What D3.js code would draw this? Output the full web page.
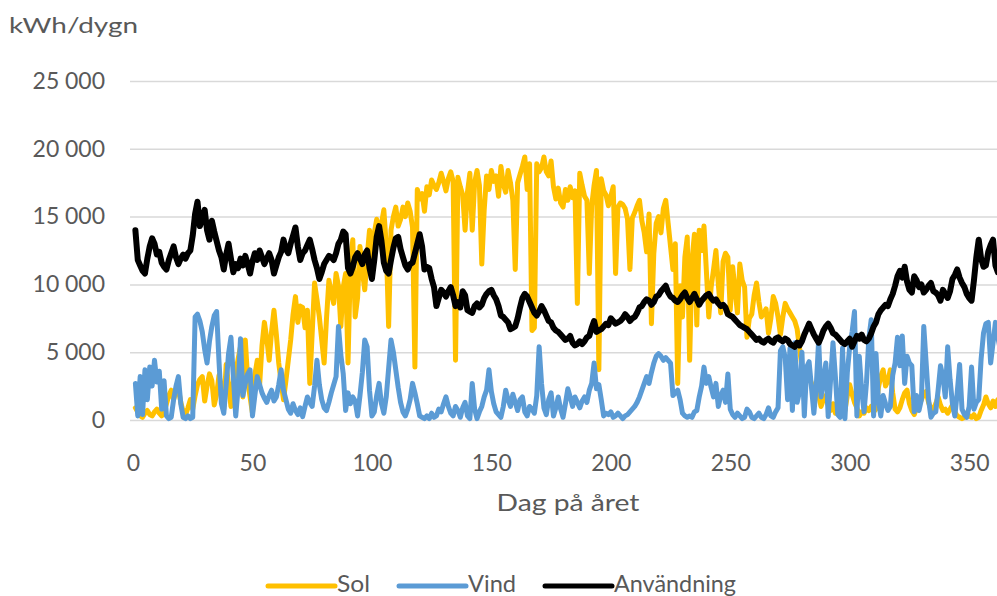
<!DOCTYPE html>
<html>
<head>
<meta charset="utf-8">
<script src="https://cdn.jsdelivr.net/npm/d3@7"></script>
<style>
  html, body { margin: 0; padding: 0; background: #ffffff; }
  svg { display: block; }
  text { font-family: Lato, "Open Sans", "Noto Sans", sans-serif; fill: #595959; }
</style>
</head>
<body>
<svg id="chart" width="997" height="596"></svg>
<script>
// Daily energy, kWh per day, day 1..365
const sol = [
  900, 600, 300, 200, 500, 700, 400, 300, 600, 800,
  500, 300, 600, 1200, 1800, 2200, 1500, 2100, 2300, 1300,
  600, 400, 900, 1500, 800, 1800, 2600, 3000, 3200, 1400,
  2500, 3400, 2900, 1100, 1900, 3300, 2400, 800, 4100, 2600,
  1000, 2800, 3500, 4500, 5400, 1700, 5900, 3000, 1700, 500,
  3300, 4400, 2600, 5500, 7200, 6000, 4400, 6500, 8100, 6300,
  4200, 2800, 1500, 2900, 4400, 5900, 7800, 9100, 7200, 8400,
  8300, 6800, 8100, 2700, 6400, 10100, 8900, 7600, 5900, 4200,
  7500, 10300, 9400, 8600, 10800, 9900, 6900, 9800, 10800, 4200,
  11500, 13300, 7600, 9000, 12800, 11000, 9600, 12000, 14000, 11600,
  13800, 14800, 13600, 14500, 15500, 12900, 6900, 14000, 15000, 15700,
  14300, 14800, 15700, 15000, 16000, 15400, 14200, 3900, 17000, 16300,
  16700, 15400, 17200, 16600, 17700, 17300, 17000, 17500, 18200, 17600,
  16900, 17800, 18300, 17600, 4400, 17900, 17200, 16600, 14000, 16800,
  18200, 14000, 17500, 18400, 17300, 11500, 15500, 18000, 17000, 18400,
  17600, 18000, 16500, 18700, 17400, 16800, 18400, 17500, 16200, 11100,
  17500, 18100, 18700, 19400, 17000, 18900, 6600, 6800, 18900, 18300,
  18600, 19400, 18300, 18000, 19100, 17200, 16300, 17100, 16000, 15700,
  17000, 16200, 17200, 16400, 16900, 8600, 18200, 17300, 16500, 16200,
  10800, 15800, 17300, 18400, 3700, 17800, 16900, 16600, 15800, 16500,
  17200, 10800, 15700, 16000, 15900, 15600, 14800, 11100, 14900, 15300,
  15800, 16200, 14700, 13800, 12400, 15200, 7100, 12300, 14500, 15000,
  13800, 15600, 16200, 14500, 12800, 11100, 13000, 2700, 9900, 7600,
  12000, 13500, 4400, 11800, 13700, 7000, 14000, 12500, 14300, 11000,
  7600, 9800, 11100, 12500, 10000, 7900, 11700, 12300, 12000, 8100,
  11300, 9600, 7900, 11500, 10300, 9800, 6100, 7500, 7800, 9200,
  10100, 8700, 7600, 7900, 8200, 6400, 7500, 9100, 8600, 7600,
  6300, 7600, 8600, 8200, 7900, 7600, 7300, 6700, 5300, 3900,
  2800, 3600, 3200, 2700, 2000, 2500, 1800, 1000, 1500, 1800,
  1100, 700, 1200, 500, 800, 1400, 1000, 700, 1800, 2600,
  1900, 1300, 900, 300, 600, 500, 900, 700, 1000, 600,
  800, 2400, 3200, 3700, 2500, 2900, 3700, 2000, 800, 600,
  900, 1500, 2000, 2200, 1200, 700, 400, 900, 1100, 1500,
  1900, 2100, 1300, 800, 800, 1200, 1700, 1100, 700, 800,
  500, 800, 1100, 600, 300, 200, 100, 200, 500, 300,
  200, 400, 100, 200, 700, 1100, 1700, 1200, 900, 1400,
  1000, 1500, 1200, 1000, 900
];

const vind = [
  2700, 300, 3200, 400, 3700, 1500, 3900, 2500, 4400, 2800,
  3600, 800, 2900, 300, 100, 200, 1500, 2500, 3200, 1200,
  200, 100, 300, 100, 200, 7600, 7800, 7300, 6500, 5200,
  4200, 5800, 6900, 7700, 8000, 4300, 1200, 500, 2600, 4900,
  6100, 3200, 300, 2400, 6000, 1800, 2700, 3400, 3700, 300,
  1800, 3200, 2600, 2000, 1600, 1300, 1800, 2200, 1400, 1700,
  2600, 3700, 2200, 1500, 800, 500, 1200, 700, 400, 900,
  250, 1000, 1700, 1300, 1000, 2500, 4400, 2600, 1500, 900,
  700, 1300, 2000, 2600, 3200, 6900, 4800, 3400, 700, 2000,
  1200, 1700, 1400, 300, 1800, 3500, 5900, 5400, 2200, 300,
  600, 1800, 2700, 1200, 500, 1700, 3800, 5900, 5000, 3700,
  2400, 1300, 600, 300, 800, 1500, 2700, 2000, 1200, 300,
  200, 100, 300, 100, 500, 200, 300, 800, 600, 1200,
  1700, 1000, 500, 300, 1000, 700, 200, 900, 1300, 300,
  100, 2700, 800, 100, 600, 1000, 1700, 2200, 3700, 2100,
  1200, 600, 400, 200, 1000, 2200, 1500, 1000, 1900, 1300,
  700, 1500, 1700, 600, 300, 1000, 800, 500, 1800, 5400,
  2700, 900, 400, 1500, 2000, 300, 900, 1700, 800, 200,
  1200, 2300, 1700, 1000, 1700, 1300, 900, 1400, 1700, 1300,
  2200, 2700, 4200, 2300, 2600, 1500, 300, 500, 400, 600,
  200, 300, 500, 300, 100, 300, 400, 600, 800, 1000,
  1300, 1700, 2200, 2700, 3200, 2700, 3500, 4200, 4700, 4900,
  4700, 4400, 4600, 4400, 4200, 1800, 2000, 2200, 1500, 500,
  300, 200, 300, 200, 600, 700, 1700, 2500, 3900, 2700,
  3200, 2400, 1700, 2700, 1000, 1800, 2200, 1300, 3400, 800,
  400, 200, 500, 300, 100, 200, 800, 600, 200, 100,
  300, 500, 200, 100, 400, 900, 300, 200, 600, 900,
  5100, 5400, 4600, 1500, 5300, 700, 5700, 1300, 2100, 5000,
  300, 3900, 4300, 2400, 500, 2500, 5900, 1700, 3000, 4200,
  250, 3000, 5700, 3200, 400, 200, 5300, 100, 3500, 5400,
  6500, 8000, 300, 4700, 2200, 600, 2700, 6000, 7400, 300,
  4900, 1500, 300, 1800, 1200, 700, 1000, 3300, 4200, 6100,
  4000, 6200, 2700, 4700, 4200, 4000, 600, 1800, 700, 1500,
  6900, 4200, 1500, 200, 500, 600, 2200, 4000, 3200, 1700,
  5400, 3000, 1200, 300, 2000, 4100, 800, 400, 200, 1000,
  3900, 800, 1300, 1500, 4500, 6400, 7100, 7200, 4200, 5700,
  7200, 6100, 5200, 4800, 4600
];

const anvandning = [
  14000, 11800, 11400, 11000, 10800, 11900, 12800, 13400, 13000, 12200,
  12400, 11600, 11300, 11100, 11800, 12300, 12800, 12000, 11500, 11900,
  12200, 11900, 12300, 12500, 13600, 15200, 16100, 14300, 14900, 15500,
  14000, 13300, 14700, 13900, 13200, 12500, 12000, 11100, 12200, 13000,
  11900, 10900, 11500, 11200, 11900, 11400, 12100, 11500, 10800, 11700,
  12300, 11800, 12500, 12000, 11500, 11900, 12300, 11800, 10800, 11400,
  12000, 12400, 13300, 12600, 12300, 13000, 13600, 14200, 12800, 11800,
  12300, 12500, 12900, 13300, 12600, 11800, 11200, 10400, 10900, 11500,
  11800, 12100, 12000, 11800, 12300, 13000, 13300, 13900, 13700, 11200,
  10800, 11300, 12000, 12300, 11900, 11500, 12200, 12500, 11200, 10400,
  11800, 13500, 14300, 13200, 11600, 11000, 10800, 11800, 12700, 13400,
  13500, 12600, 12000, 11400, 11100, 11500, 11600, 12300, 13000, 13700,
  12800, 11100, 11300, 11200, 10400, 9800, 8400, 9000, 9600, 9400,
  9100, 9500, 9800, 9200, 8400, 8700, 8300, 9500, 9200, 8100,
  8000, 7900, 8400, 8600, 8300, 8500, 9000, 9300, 9500, 9600,
  9200, 8900, 8400, 7700, 7600, 7400, 7200, 6700, 6800, 6900,
  7500, 8300, 9000, 9300, 9100, 8700, 8300, 7900, 7700, 8000,
  8400, 8100, 7700, 7300, 7200, 6800, 6600, 6500, 6300, 6100,
  5900, 6000, 6200, 5700, 5500, 5600, 5800, 5600, 5800, 6100,
  6200, 6800, 7300, 6500, 6600, 6700, 6900, 7100, 7000, 7500,
  7300, 7100, 7200, 7300, 7500, 7800, 7600, 7300, 7500, 7600,
  7900, 8300, 8400, 8700, 8900, 8800, 8500, 8700, 9100, 9200,
  9500, 9700, 9900, 9400, 9100, 9000, 8800, 8700, 8900, 9200,
  9400, 9000, 8700, 9000, 9300, 8900, 8500, 8800, 9000, 9200,
  9300, 9000, 8800, 8900, 8600, 8400, 8500, 8300, 7800, 7700,
  7600, 7400, 7200, 7000, 6900, 6800, 6700, 6500, 6300, 6100,
  5900, 6000, 5800, 5700, 5900, 6000, 5800, 5700, 6000, 6100,
  5900, 5800, 6000, 5900, 5600, 5500, 5400, 5700, 5500, 5800,
  6300, 6700, 7100, 6700, 6300, 6000, 5700, 6100, 6600, 6900,
  7100, 6800, 6400, 6300, 6100, 5900, 5700, 5600, 5800, 6000,
  5400, 5800, 6200, 6000, 6300, 5900, 5800, 6000, 6400, 6900,
  7200, 7800, 8100, 8300, 8500, 8400, 8900, 9300, 9900, 10600,
  11000, 10500, 11300, 10200, 9600, 9400, 10600, 10300, 9800, 10000,
  9400, 9600, 9900, 10100, 9500, 9400, 9200, 8800, 9600, 9300,
  9000, 9500, 10400, 10700, 11100, 10500, 10100, 9800, 9300, 9000,
  8800, 10300, 12000, 13300, 11900, 11300, 11400, 12400, 12900, 13300,
  11400, 10900, 12000, 13300, 13500
];

const xTicks = [0, 50, 100, 150, 200, 250, 300, 350];
const yTicks = [0, 5000, 10000, 15000, 20000, 25000];
const seriesNames = ["Sol", "Vind", "Användning"];
const seriesColors = ["#FFC000", "#5B9BD5", "#000000"];
const yTitle = "kWh/dygn";
const xTitle = "Dag på året";

const series = [sol, vind, anvandning];
const days = sol.map((_, i) => i + 1);

const svg = d3.select("#chart");
svg.append("rect").attr("width", 997).attr("height", 596).attr("fill", "#ffffff");

const plotLeft = 130;
const x = d3.scaleLinear().domain([0, 365]).range([133, 1005]);
const y = d3.scaleLinear().domain([0, 25000]).range([420, 81]);

// Swedish grouping with a narrow space between thousands
const sv = d3.formatLocale({ decimal: ",", thousands: "\u2005", grouping: [3], currency: ["", ""] });
const fmt = sv.format(",d");

// Horizontal gridlines with value labels
const yAxis = svg.append("g")
  .attr("transform", `translate(${plotLeft},0)`)
  .call(d3.axisLeft(y).tickValues(yTicks).tickSize(-(1010 - plotLeft)).tickPadding(25).tickFormat(fmt));
yAxis.select(".domain").remove();
yAxis.selectAll(".tick line").attr("stroke", "#D9D9D9").attr("stroke-width", 1.5);
yAxis.selectAll(".tick text").attr("font-size", 23).attr("fill", "#595959")
  .style("font-family", "Lato, sans-serif");

// Day labels
const xAxis = svg.append("g")
  .attr("transform", "translate(0,420)")
  .call(d3.axisBottom(x).tickValues(xTicks).tickSize(0).tickPadding(35));
xAxis.select(".domain").remove();
xAxis.selectAll(".tick text").attr("font-size", 23).attr("fill", "#595959")
  .style("font-family", "Lato, sans-serif");

// Series lines
const line = d3.line()
  .x((d, i) => x(days[i]))
  .y(d => y(d));

const widths = [5, 5, 6];
series.forEach((vals, k) => {
  svg.append("path")
    .datum(vals)
    .attr("fill", "none")
    .attr("stroke", seriesColors[k])
    .attr("stroke-width", widths[k])
    .attr("stroke-linejoin", "round")
    .attr("stroke-linecap", "round")
    .attr("d", line);
});

// Axis titles
svg.append("text")
  .attr("x", 9).attr("y", 33)
  .attr("font-size", 22)
  .attr("textLength", 129).attr("lengthAdjust", "spacingAndGlyphs")
  .text(yTitle);

svg.append("text")
  .attr("x", 568).attr("y", 511)
  .attr("text-anchor", "middle")
  .attr("font-size", 23)
  .attr("textLength", 143).attr("lengthAdjust", "spacingAndGlyphs")
  .text(xTitle);

// Legend
const legendY = 586;
const swatchLen = 67;
const labelWidths = [33, 48, 122];
let lx = 268;
seriesNames.forEach((name, k) => {
  svg.append("line")
    .attr("x1", lx).attr("x2", lx + swatchLen)
    .attr("y1", legendY).attr("y2", legendY)
    .attr("stroke", seriesColors[k])
    .attr("stroke-width", 5)
    .attr("stroke-linecap", "round");
  svg.append("text")
    .attr("x", lx + swatchLen + 2).attr("y", legendY + 6)
    .attr("font-size", 23)
    .attr("textLength", labelWidths[k]).attr("lengthAdjust", "spacingAndGlyphs")
    .text(name);
  lx += swatchLen + 2 + labelWidths[k] + 29;
});
</script>
</body>
</html>
